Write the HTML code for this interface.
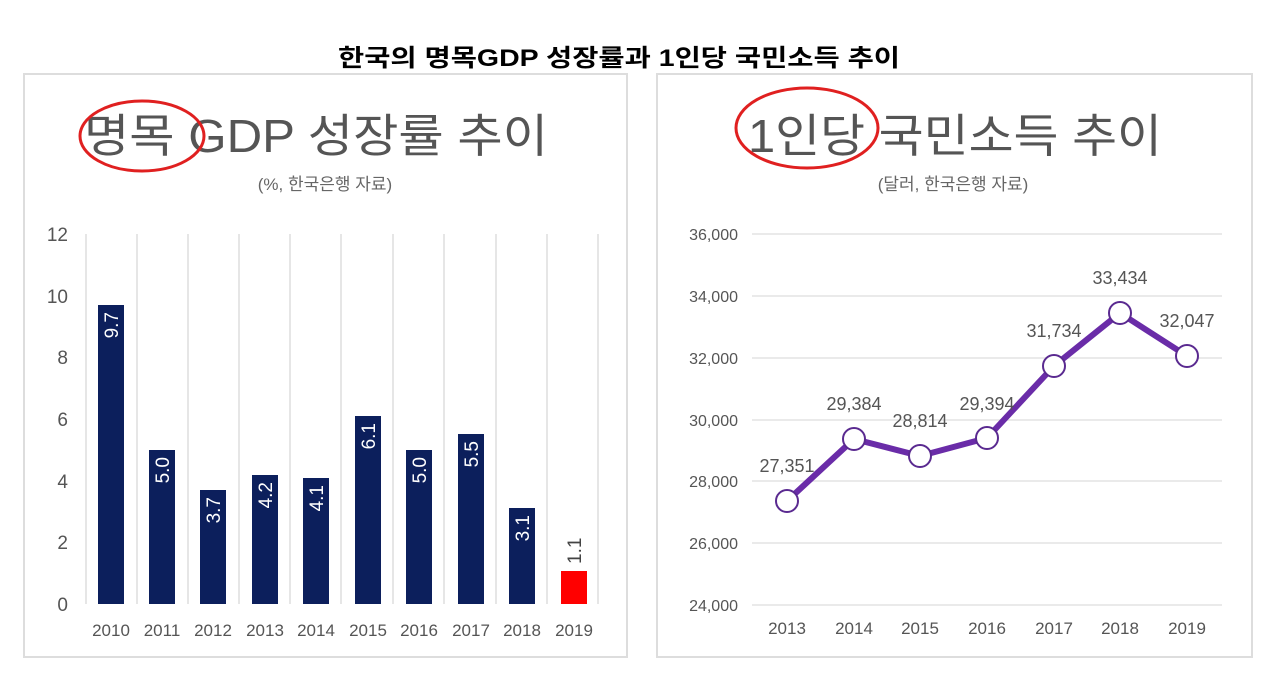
<!DOCTYPE html>
<html><head><meta charset="utf-8"><style>
body{margin:0;background:#fff;}
svg text{font-family:"Liberation Sans","Noto Sans CJK KR",sans-serif;}
</style></head><body>
<svg width="1280" height="685" xmlns="http://www.w3.org/2000/svg">
<rect width="1280" height="685" fill="#fff"/>
<text x="338" y="66" font-size="24" font-weight="bold" fill="#000" textLength="562" lengthAdjust="spacingAndGlyphs">한국의 명목GDP 성장률과 1인당 국민소득 추이</text>
<rect x="24" y="74" width="603" height="583" fill="#fff" stroke="#ddd" stroke-width="2"/>
<rect x="657" y="74" width="595" height="583" fill="#fff" stroke="#ddd" stroke-width="2"/>
<!-- left -->
<text x="84" y="152" font-size="46" fill="#555" textLength="464" lengthAdjust="spacingAndGlyphs">명목 GDP 성장률 추이</text>
<ellipse cx="142" cy="136" rx="62" ry="35" fill="none" stroke="#e02020" stroke-width="3"/>
<text x="325" y="190" text-anchor="middle" font-size="17" fill="#666">(%, 한국은행 자료)</text>
<g stroke="#e6e6e6" stroke-width="2">
<line x1="86" y1="234" x2="86" y2="604"/><line x1="137" y1="234" x2="137" y2="604"/><line x1="188" y1="234" x2="188" y2="604"/><line x1="239" y1="234" x2="239" y2="604"/><line x1="290" y1="234" x2="290" y2="604"/><line x1="341" y1="234" x2="341" y2="604"/><line x1="393" y1="234" x2="393" y2="604"/><line x1="444" y1="234" x2="444" y2="604"/><line x1="496" y1="234" x2="496" y2="604"/><line x1="547" y1="234" x2="547" y2="604"/><line x1="598" y1="234" x2="598" y2="604"/>
</g>
<g font-size="19" fill="#555" text-anchor="end">
<text x="68" y="241">12</text><text x="68" y="303">10</text><text x="68" y="364">8</text><text x="68" y="426">6</text><text x="68" y="488">4</text><text x="68" y="549">2</text><text x="68" y="611">0</text>
</g>
<g fill="#0c1f5c">
<rect x="98" y="305" width="26" height="299"/>
<rect x="149" y="450" width="26" height="154"/>
<rect x="200" y="490" width="26" height="114"/>
<rect x="252" y="475" width="26" height="129"/>
<rect x="303" y="478" width="26" height="126"/>
<rect x="355" y="416" width="26" height="188"/>
<rect x="406" y="450" width="26" height="154"/>
<rect x="458" y="434" width="26" height="170"/>
<rect x="509" y="508" width="26" height="96"/>
</g>
<rect x="561" y="571" width="26" height="33" fill="#f00"/>
<g font-size="19" fill="#fff">
<text transform="translate(118,312) rotate(-90)" text-anchor="end">9.7</text>
<text transform="translate(169,457) rotate(-90)" text-anchor="end">5.0</text>
<text transform="translate(220,497) rotate(-90)" text-anchor="end">3.7</text>
<text transform="translate(272,482) rotate(-90)" text-anchor="end">4.2</text>
<text transform="translate(323,485) rotate(-90)" text-anchor="end">4.1</text>
<text transform="translate(375,423) rotate(-90)" text-anchor="end">6.1</text>
<text transform="translate(426,457) rotate(-90)" text-anchor="end">5.0</text>
<text transform="translate(478,441) rotate(-90)" text-anchor="end">5.5</text>
<text transform="translate(529,515) rotate(-90)" text-anchor="end">3.1</text>
</g>
<text transform="translate(581,564) rotate(-90)" font-size="19" fill="#444">1.1</text>
<g font-size="17" fill="#555" text-anchor="middle">
<text x="111" y="636">2010</text><text x="162" y="636">2011</text><text x="213" y="636">2012</text><text x="265" y="636">2013</text><text x="316" y="636">2014</text><text x="368" y="636">2015</text><text x="419" y="636">2016</text><text x="471" y="636">2017</text><text x="522" y="636">2018</text><text x="574" y="636">2019</text>
</g>
<!-- right -->
<text x="748" y="152" font-size="46" fill="#555" textLength="414" lengthAdjust="spacingAndGlyphs">1인당 국민소득 추이</text>
<ellipse cx="807" cy="128" rx="71" ry="40" fill="none" stroke="#e02020" stroke-width="3"/>
<text x="953" y="190" text-anchor="middle" font-size="17" fill="#666">(달러, 한국은행 자료)</text>
<g stroke="#e3e3e3" stroke-width="1.5">
<line x1="752" y1="234" x2="1222" y2="234"/><line x1="752" y1="296" x2="1222" y2="296"/><line x1="752" y1="358" x2="1222" y2="358"/><line x1="752" y1="420" x2="1222" y2="420"/><line x1="752" y1="481" x2="1222" y2="481"/><line x1="752" y1="543" x2="1222" y2="543"/><line x1="752" y1="605" x2="1222" y2="605"/>
</g>
<g font-size="16" fill="#555" text-anchor="end">
<text x="738" y="240">36,000</text><text x="738" y="302">34,000</text><text x="738" y="364">32,000</text><text x="738" y="426">30,000</text><text x="738" y="487">28,000</text><text x="738" y="549">26,000</text><text x="738" y="611">24,000</text>
</g>
<polyline points="787,501 854,439 920,456 987,438 1054,366 1120,313 1187,356" fill="none" stroke="#6a2ca8" stroke-width="6" stroke-linejoin="round"/>
<g fill="#fff" stroke="#5a2a90" stroke-width="2">
<circle cx="787" cy="501" r="11"/><circle cx="854" cy="439" r="11"/><circle cx="920" cy="456" r="11"/><circle cx="987" cy="438" r="11"/><circle cx="1054" cy="366" r="11"/><circle cx="1120" cy="313" r="11"/><circle cx="1187" cy="356" r="11"/>
</g>
<g font-size="18" fill="#555" text-anchor="middle">
<text x="787" y="472">27,351</text><text x="854" y="410">29,384</text><text x="920" y="427">28,814</text><text x="987" y="410">29,394</text><text x="1054" y="337">31,734</text><text x="1120" y="284">33,434</text><text x="1187" y="327">32,047</text>
</g>
<g font-size="17" fill="#555" text-anchor="middle">
<text x="787" y="634">2013</text><text x="854" y="634">2014</text><text x="920" y="634">2015</text><text x="987" y="634">2016</text><text x="1054" y="634">2017</text><text x="1120" y="634">2018</text><text x="1187" y="634">2019</text>
</g>
</svg>
</body></html>
